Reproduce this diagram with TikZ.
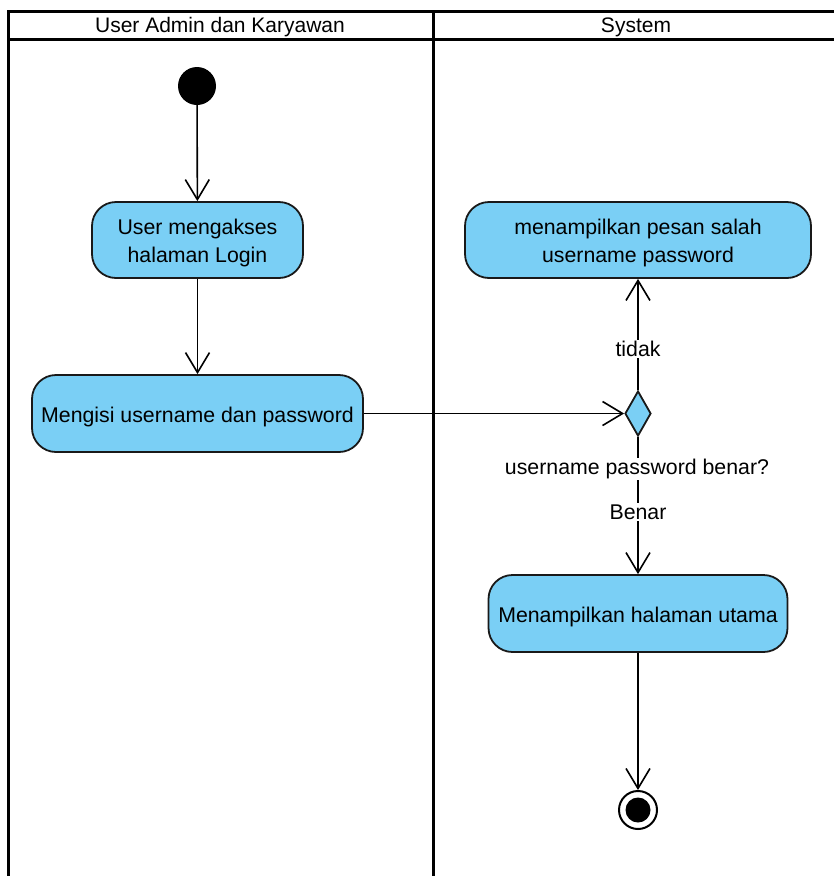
\documentclass[tikz,border=0pt]{standalone}
\usepackage{fontspec}
\setmainfont{Liberation Sans}
\usetikzlibrary{arrows.meta,shapes.geometric}
\definecolor{actfill}{RGB}{122,207,245}
\begin{document}
\begin{tikzpicture}[x=1pt,y=-1pt,
  act/.style={draw=black!90,line width=1.8pt,fill=actfill,rounded corners=24pt,inner sep=0pt},
  acttext/.style={align=center,font=\fontsize{21.3}{28}\selectfont,yshift=-3pt,inner sep=0pt},
  conn/.style={line width=1.6pt,-{Straight Barb[length=20pt,width=24pt,line width=1.6pt]}},
  lbl/.style={fill=white,font=\fontsize{21.3}{24}\selectfont,inner sep=1.5pt},
  lane/.style={line width=3pt},
  hdr/.style={font=\fontsize{21}{24}\selectfont}]
\useasboundingbox (0,0) rectangle (834,876);
% swimlanes
\draw[lane] (8,880) -- (8,11) -- (840,11);
\draw[lane] (8,39) -- (840,39);
\draw[lane] (433,11) -- (433,880);
\node[hdr] (h1) at (220,27) {User Admin dan Karyawan};
\node[hdr] (h2) at (636,27) {System};
% nodes
\node[circle,fill=black,minimum size=38pt,inner sep=0pt] (start) at (197,86) {};
\node[act,minimum width=211pt,minimum height=76pt,label={[acttext]center:{User mengakses\\halaman Login}}] (login) at (197.5,240) {};
\node[act,minimum width=331pt,minimum height=77pt,label={[acttext]center:{Mengisi username dan password}}] (isi) at (197.5,413.5) {};
\node[act,minimum width=346pt,minimum height=76pt,label={[acttext]center:{menampilkan pesan salah\\username password}}] (salah) at (638,240) {};
\node[diamond,draw=black!90,line width=1.8pt,fill=actfill,minimum width=26pt,minimum height=45pt,aspect=0.58,inner sep=0pt] (dec) at (638,413.5) {};
\node[act,minimum width=299pt,minimum height=77pt,label={[acttext]center:{Menampilkan halaman utama}}] (utama) at (638,613.5) {};
\node[circle,draw=black,line width=2pt,fill=white,minimum size=38pt,inner sep=0pt] (final) at (638,810) {};
\node[circle,fill=black,minimum size=25pt,inner sep=0pt] (finalin) at (638,810) {};
% connectors
\draw[conn] (start) -- (login);
\draw[conn] (login) -- (isi);
\draw[conn] (isi.east) -- (dec.west);
\draw[conn] (dec.north) -- (salah.south);
\draw[conn] (dec.south) -- (utama.north);
\draw[conn] (utama.south) -- (final.north);
% labels
\node[lbl] (ltidak) at (638,349) {tidak};
\node[lbl] (lcond) at (637,469) {username password benar?};
\node[lbl] (lbenar) at (638,512) {Benar};
\end{tikzpicture}
\end{document}
